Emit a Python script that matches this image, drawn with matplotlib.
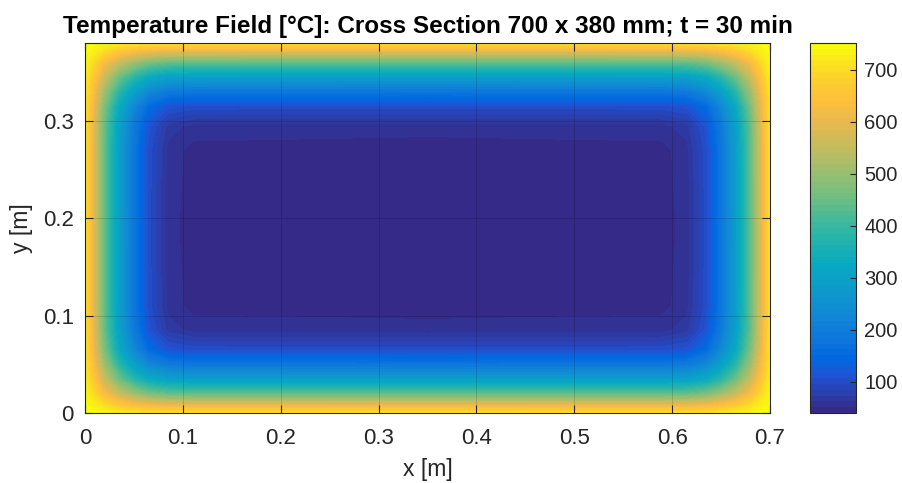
import numpy as np
import matplotlib
matplotlib.use("Agg")
import matplotlib.pyplot as plt
from matplotlib.colors import LinearSegmentedColormap

# node depths from the outer surface, one quarter of the section (last = centre)
depth_x = [0.0, 0.01, 0.02, 0.035, 0.05, 0.065, 0.085, 0.11, 0.35]
depth_y = [0.0, 0.01, 0.02, 0.035, 0.05, 0.065, 0.085, 0.11, 0.19]

# temperature [°C] at the nodes, rows follow depth_y, columns follow depth_x
temp_quarter = [
    [751, 743, 735, 726, 720, 715, 713, 712, 712],
    [743, 721, 689, 644, 612, 587, 574, 571, 570],
    [735, 689, 624, 552, 501, 463, 441, 436, 435],
    [726, 644, 552, 450, 378, 324, 294, 286, 285],
    [720, 612, 501, 378, 292, 227, 191, 182, 180],
    [715, 587, 463, 324, 227, 153, 112, 102, 100],
    [713, 574, 441, 294, 191, 112, 69, 58, 56],
    [712, 571, 436, 286, 182, 102, 58, 47, 45],
    [712, 570, 435, 285, 180, 100, 56, 45, 43],
]

sec_width = 0.7
sec_height = 0.38
x_ticks = [0, 0.1, 0.2, 0.3, 0.4, 0.5, 0.6, 0.7]
x_labels = ['0', '0.1', '0.2', '0.3', '0.4', '0.5', '0.6', '0.7']
y_ticks = [0, 0.1, 0.2, 0.3]
y_labels = ['0', '0.1', '0.2', '0.3']
cbar_min, cbar_max = 40, 751
cbar_ticks = [100, 200, 300, 400, 500, 600, 700]

# parula-like colormap (anchors taken from the matlab table)
parula_anchors = [
    (0.2081, 0.1663, 0.5292), (0.1253, 0.3242, 0.8303), (0.0060, 0.4086, 0.8828),
    (0.0498, 0.4586, 0.8641), (0.0641, 0.5570, 0.8240), (0.0267, 0.6642, 0.7607),
    (0.1801, 0.7177, 0.6424), (0.4420, 0.7481, 0.5033), (0.7184, 0.7411, 0.3905),
    (0.9139, 0.7258, 0.3063), (0.9938, 0.7455, 0.2403), (0.9880, 0.8066, 0.1794),
    (0.9763, 0.9831, 0.0538),
]
anchor_pos = [0, 6, 9, 12, 18, 25, 31, 37, 44, 50, 53, 57, 63]
parula = LinearSegmentedColormap.from_list(
    "parula", [(p / 63, c) for p, c in zip(anchor_pos, parula_anchors)], N=64)

# mirror the quarter into the full section
dx = np.array(depth_x)
dy = np.array(depth_y)
x = np.concatenate([dx, sec_width - dx[::-1][1:]])
y = np.concatenate([dy, sec_height - dy[::-1][1:]])
q = np.array(temp_quarter, dtype=float)
half = np.hstack([q, q[:, -2::-1]])
temp = np.vstack([half, half[-2::-1, :]])

plt.rcParams['font.family'] = ['Liberation Sans', 'DejaVu Sans']
dark = '#262626'

fig = plt.figure(figsize=(9.02, 4.83), dpi=100)
ax = fig.add_axes([0.0942, 0.1449, 0.7595, 0.766])
cax = fig.add_axes([0.898, 0.1449, 0.051, 0.766])

levels = np.linspace(cbar_min, cbar_max, 65)
cs = ax.contourf(x, y, temp, levels=levels, cmap=parula, antialiased=False)

ax.set_xlim(0, sec_width)
ax.set_ylim(0, sec_height)
ax.set_xticks(x_ticks)
ax.set_xticklabels(x_labels)
ax.set_yticks(y_ticks)
ax.set_yticklabels(y_labels)
ax.set_axisbelow(False)
ax.grid(True, color='k', alpha=0.15, lw=0.7)
ax.tick_params(direction='in', top=True, right=True, length=6, width=0.8,
               labelsize=16, colors=dark)
ax.tick_params(axis='x', pad=11)
ax.tick_params(axis='y', pad=8)
for s in ax.spines.values():
    s.set_color(dark)
    s.set_linewidth(0.8)

ax.set_xlabel('x [m]', fontsize=16.5, color=dark, labelpad=6)
ax.set_ylabel('y [m]', fontsize=16.5, color=dark, labelpad=7)
ax.set_title('Temperature Field [°C]: Cross Section 700 x 380 mm; t = 30 min',
             fontsize=17.5, fontweight='bold', color='k', pad=7)

cb = fig.colorbar(cs, cax=cax)
cb.set_ticks(cbar_ticks)
cb.ax.tick_params(direction='in', length=4, width=0.8, labelsize=14.5, colors=dark, pad=6)
cb.outline.set_edgecolor(dark)
cb.outline.set_linewidth(0.8)

fig.savefig('out.png', dpi=100)
